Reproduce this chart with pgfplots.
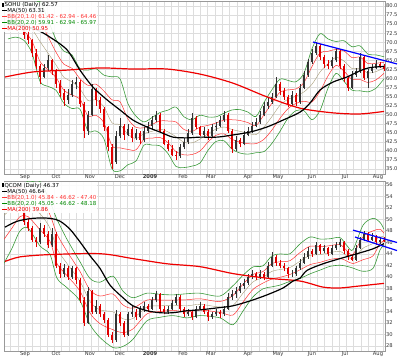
\documentclass[border=0pt]{standalone}
\usepackage{pgfplots}
\pgfplotsset{compat=1.18}
\usepackage{pgfplotstable}
\usepackage{fontspec}
\setmainfont{DejaVu Sans}
\definecolor{gridc}{HTML}{DDDDDD}
\definecolor{framec}{HTML}{999999}
\definecolor{bbgreen}{HTML}{3A9A3A}
\definecolor{legg}{HTML}{008800}
\definecolor{bbred}{HTML}{FF3333}
\definecolor{mared}{HTML}{EE0000}
\definecolor{olivec}{HTML}{A89E7A}
\definecolor{candred}{HTML}{E00000}
\definecolor{candblk}{HTML}{333333}

\pgfplotsset{
  wick/.style={line width=0.45bp, point meta=\thisrow{d}, quiver={u=0, v=\thisrow{h}-\thisrow{l}, colored}},
  body/.style={line width=1.5bp, point meta=\thisrow{d}, quiver={u=0, v=\thisrow{c}-\thisrow{o}, colored}},
  geo/.style={scale only axis, width=381bp, height=173bp, xmin=4, xmax=385},
  panel/.style={geo,
    axis line style={framec}, tick style={draw=none},
    colormap={cand}{color=(candblk) color=(candred)},
    point meta min=0, point meta max=1,
    xtick={25,56,90,120,150,183,211,248,278,312,345,378},
    xticklabels={Sep,Oct,Nov,Dec,\textbf{2009},Feb,Mar,Apr,May,Jun,Jul,Aug},
    minor xtick={10.5,17.8,...,385},
    xminorgrids, ymajorgrids,
    minor grid style={gridc, line width=0.4bp},
    major grid style={gridc, line width=0.4bp},
    yticklabel pos=right,
    ticklabel style={font=\fontsize{5.2}{6}\selectfont, text=black!80},
    yticklabel style={inner sep=0.8bp},
    xticklabel style={inner sep=0.8bp},
    /pgf/number format/assume math mode=true,
  },
}

\pgfplotstableread{
x o h l c d
8 75.0 77.0 74.5 76.0 0
12 76.2 78.5 75.8 77.5 0
16 77.5 78.0 75.5 76.0 1
20 76.0 76.5 73.8 74.5 1
24 74.5 75.0 71.0 72.0 1
28 72.0 73.0 69.5 70.5 1
32 70.5 71.0 66.0 67.0 1
36 67.0 68.0 62.5 63.5 1
40 63.5 64.0 58.5 60.5 1
44 60.5 64.0 60.0 63.0 0
48 63.0 66.5 62.0 65.0 0
52 65.0 65.5 61.0 62.0 1
56 62.0 62.5 57.5 58.5 1
60 58.5 59.5 55.0 56.0 1
64 56.0 57.0 52.5 54.0 1
68 54.0 57.0 53.0 55.5 0
72 55.5 59.5 55.0 58.5 0
76 58.5 60.5 57.0 59.0 0
80 59.0 59.5 52.0 53.0 1
84 53.0 53.5 43.5 45.5 1
88 45.5 51.0 44.5 50.0 0
92 50.0 58.5 49.5 57.0 0
96 57.0 57.5 52.5 54.0 1
100 54.0 55.0 50.5 51.5 1
104 51.5 52.0 45.5 46.5 1
108 46.5 47.0 40.0 41.0 1
112 41.0 42.0 35.0 36.5 1
116 37.0 45.5 36.5 44.0 0
120 44.0 49.0 43.5 47.0 0
124 47.0 47.5 43.0 44.5 1
128 44.5 47.5 44.0 46.0 0
132 46.0 46.5 42.5 43.5 1
136 43.5 46.0 43.0 45.0 0
140 45.0 45.5 42.0 43.0 1
144 43.0 46.5 42.5 45.5 0
148 45.5 48.0 45.0 47.0 0
152 47.0 49.5 46.0 48.5 0
156 48.5 51.0 48.0 50.0 0
160 50.0 50.5 45.0 45.5 1
164 45.5 46.0 41.5 42.0 1
168 42.0 43.0 40.0 40.5 1
172 40.5 41.5 38.5 39.0 1
176 39.0 40.0 37.5 38.5 1
180 38.5 42.0 38.0 41.0 0
184 41.0 43.5 40.5 42.5 0
188 42.5 46.0 42.0 45.0 0
192 45.0 50.5 44.5 49.0 0
196 49.0 49.5 46.0 46.5 1
200 46.5 47.0 44.0 44.5 1
204 44.5 46.5 43.5 45.5 0
208 45.5 46.0 43.0 44.0 1
212 44.0 47.5 43.5 46.5 0
216 46.5 48.0 45.5 47.0 0
220 47.0 49.5 46.5 48.5 0
224 48.5 51.0 48.0 50.0 0
228 50.0 50.5 45.0 45.5 1
232 45.5 46.0 39.5 40.5 1
236 40.5 44.0 40.0 43.0 0
240 43.0 43.5 41.0 42.0 1
244 42.0 45.5 41.5 44.5 0
248 44.5 46.5 44.0 45.5 0
252 45.5 48.0 45.0 47.0 0
256 47.0 49.0 46.5 48.0 0
260 48.0 51.0 47.5 50.0 0
264 50.0 53.5 49.5 52.5 0
268 52.5 54.5 51.5 53.5 0
272 53.5 56.0 53.0 55.0 0
276 55.0 60.5 54.5 58.5 0
280 58.5 59.0 55.5 56.5 1
284 56.5 57.5 54.0 55.0 1
288 55.0 55.5 52.0 53.0 1
292 53.0 56.5 52.5 55.5 0
296 55.5 56.0 52.5 53.5 1
300 53.5 58.5 53.0 57.5 0
304 57.5 62.0 57.0 61.0 0
308 61.0 65.5 60.5 64.5 0
312 64.5 68.0 64.0 67.0 0
316 67.0 70.0 66.5 69.0 0
320 69.0 69.5 65.0 66.0 1
324 66.0 66.5 63.0 64.0 1
328 64.0 65.0 62.5 63.5 1
332 63.5 66.0 63.0 65.0 0
336 65.0 68.5 64.5 67.5 0
340 67.5 68.0 62.5 63.5 1
344 63.5 64.0 59.0 60.0 1
348 60.0 60.5 56.5 57.5 1
352 57.5 62.0 57.0 61.0 0
356 61.0 63.0 60.5 62.0 0
360 62.0 67.0 61.5 66.0 0
364 66.0 66.5 59.5 60.0 1
368 60.0 62.5 57.5 62.0 0
372 62.0 64.0 61.5 63.0 0
376 63.0 65.0 62.5 64.0 0
380 64.0 64.5 63.0 63.5 1
384 63.5 64.0 62.0 62.57 1
}\sohu

\pgfplotstableread{
x m s
8 75.5 2.3
16 76.0 2.3
24 75.5 2.5
32 73.6 3.3
40 70.2 5.5
48 67.0 4.6
56 63.75 3.5
64 60.3 3.6
72 59.1 3.7
80 57.1 2.8
88 53.9 4.2
96 54.1 4.3
104 52.1 4.4
112 47.75 6.35
120 47.2 6.36
128 44.6 4.2
136 43.4 3.1
144 44.8 1.6
152 45.4 1.9
160 46.0 2.3
168 45.25 3.0
176 43.9 4.1
184 42.4 3.5
192 42.2 3.2
200 43.25 3.3
208 44.75 2.3
216 46.0 1.7
224 46.6 1.9
232 45.9 2.7
240 45.4 3.0
248 44.9 2.9
256 44.5 2.5
264 46.6 3.4
272 49.5 3.7
280 52.6 3.6
288 54.25 2.6
296 55.1 2.0
304 56.3 2.6
312 58.4 4.9
320 61.75 5.3
328 64.1 3.4
336 65.8 2.2
344 64.8 2.8
352 62.75 3.0
360 62.8 3.1
368 61.5 2.6
376 61.9 2.3
384 62.94 1.52
}\sohubb

\pgfplotstableread{
x o h l c d
8 53.5 54.8 53.0 54.0 0
12 54.0 55.2 53.6 54.5 0
16 54.5 54.8 53.0 53.5 1
20 53.5 53.8 51.5 52.0 1
24 52.0 52.3 49.0 49.5 1
28 49.5 50.0 48.0 48.5 1
32 48.5 48.8 46.0 46.5 1
36 46.5 47.0 45.3 46.0 1
40 46.0 49.3 45.8 48.5 0
44 48.5 49.0 47.0 47.5 1
48 47.5 48.0 45.0 45.5 1
52 45.5 48.5 45.2 47.5 0
56 47.5 47.8 41.5 42.0 1
60 42.0 42.5 39.8 40.5 1
64 40.5 42.3 40.0 41.5 0
68 41.5 42.0 39.5 40.0 1
72 40.0 42.0 39.6 41.5 0
76 41.5 41.8 38.8 39.5 1
80 39.5 39.8 35.5 36.0 1
84 36.0 36.5 31.5 32.0 1
88 32.0 38.2 31.8 37.5 0
92 37.5 37.8 33.5 34.0 1
96 34.0 36.0 33.6 35.0 0
100 35.0 35.4 33.0 33.5 1
104 33.5 34.0 32.0 32.5 1
108 32.5 32.8 29.5 30.0 1
112 30.0 30.5 28.5 29.0 1
116 29.0 34.2 28.8 33.5 0
120 33.5 34.0 31.5 32.0 1
124 32.0 32.3 29.5 30.0 1
128 30.0 34.0 29.8 33.5 0
132 33.5 35.0 33.0 34.0 0
136 34.0 34.4 32.6 33.0 1
140 33.0 35.0 32.8 34.5 0
144 34.5 35.6 34.0 35.0 0
148 35.0 35.3 34.0 34.5 1
152 34.5 36.6 34.2 36.0 0
156 36.0 37.5 35.6 37.0 0
160 37.0 37.3 34.0 34.5 1
164 34.5 35.0 33.5 34.0 1
168 34.0 35.0 33.6 34.5 0
172 34.5 36.0 34.2 35.5 0
176 35.5 37.0 35.2 36.5 0
180 36.5 36.8 34.0 34.5 1
184 34.5 34.8 33.0 33.5 1
188 33.5 34.5 33.2 34.0 0
192 34.0 34.3 32.6 33.0 1
196 33.0 35.0 32.8 34.5 0
200 34.5 35.6 34.2 35.0 0
204 35.0 35.3 33.6 34.0 1
208 34.0 34.3 32.4 33.0 1
212 33.0 34.0 32.7 33.5 0
216 33.5 34.5 33.2 34.0 0
220 34.0 34.3 32.8 33.5 1
224 33.5 35.0 33.2 34.5 0
228 34.5 37.2 34.2 36.5 0
232 36.5 37.8 36.0 37.0 0
236 37.0 38.2 36.4 37.5 0
240 37.5 39.0 37.2 38.5 0
244 38.5 39.6 38.0 39.0 0
248 39.0 40.6 38.6 40.0 0
252 40.0 41.3 39.6 40.5 0
256 40.5 40.8 39.4 40.0 1
260 40.0 41.2 39.7 40.5 0
264 40.5 40.8 39.4 40.0 1
268 40.0 42.6 39.8 42.0 0
272 42.0 44.4 41.7 43.5 0
276 43.5 43.8 42.0 42.5 1
280 42.5 43.0 41.5 42.0 1
284 42.0 42.4 41.0 41.5 1
288 41.5 41.8 39.8 40.5 1
292 40.5 41.2 40.0 40.5 0
296 40.5 42.0 40.2 41.5 0
300 41.5 43.2 41.2 42.5 0
304 42.5 44.2 42.2 43.5 0
308 43.5 45.2 43.2 44.5 0
312 44.5 44.8 43.5 44.0 1
316 44.0 46.0 43.8 45.5 0
320 45.5 45.8 44.0 44.5 1
324 44.5 45.6 44.2 45.0 0
328 45.0 45.3 43.6 44.0 1
332 44.0 45.6 43.8 45.0 0
336 45.0 46.0 44.7 45.5 0
340 45.5 46.6 45.2 46.0 0
344 46.0 46.3 44.0 44.5 1
348 44.5 44.8 43.0 43.5 1
352 43.5 43.8 42.7 43.0 1
356 43.0 45.6 42.8 45.0 0
360 45.0 47.0 44.8 46.5 0
364 46.5 48.0 46.2 47.5 0
368 47.5 47.8 46.0 46.5 1
372 46.5 47.6 46.2 47.0 0
376 47.0 47.3 45.6 46.0 1
380 46.0 47.0 45.7 46.5 0
384 46.5 46.9 46.0 46.37 1
}\qcom

\pgfplotstableread{
x m s
4 50.7 4.15
12 52.0 3.5
20 53.0 2.5
28 52.5 2.0
40 51.0 2.8
50 48.5 2.3
57 44.9 2.55
67 42.35 2.1
80 39.25 1.7
90 35.75 2.0
100 34.3 2.4
113 33.95 3.1
123 32.75 2.4
133 32.8 1.8
147 34.8 1.2
160 35.0 1.0
173 35.1 0.9
187 35.0 1.05
200 35.25 0.97
220 34.8 0.95
233 35.1 1.7
243 37.2 1.55
253 39.15 1.3
263 39.95 1.0
272 41.0 1.35
280 41.3 1.35
290 41.65 1.2
300 42.75 1.5
310 43.75 1.6
320 43.9 1.35
330 44.25 1.2
340 44.45 1.2
347 43.65 0.9
353 43.15 0.8
363 45.0 2.0
373 45.85 2.17
380 47.1 1.2
384 46.9 0.7
}\qcombb

\begin{document}
\begin{tikzpicture}
\path[use as bounding box] (0,0) rectangle (400bp,-361bp);
% ---------------- SOHU ----------------
\begin{axis}[panel, at={(4bp,-1bp)}, anchor=north west,
  ymin=33.62, ymax=81.38, ytick={35,37.5,...,80},
  yticklabel style={/pgf/number format/.cd, fixed, fixed zerofill, precision=1}]
\addplot[bbgreen, line width=0.6bp, smooth, tension=0.5] table[x=x, y expr={\thisrow{m}+2*\thisrow{s}}] {\sohubb};
\addplot[bbgreen, line width=0.6bp, smooth, tension=0.5] table[x=x, y expr={\thisrow{m}-2*\thisrow{s}}] {\sohubb};
\addplot[bbred, line width=0.5bp, smooth, tension=0.5] table[x=x, y expr={\thisrow{m}+\thisrow{s}}] {\sohubb};
\addplot[bbred, line width=0.5bp, smooth, tension=0.5] table[x=x, y expr={\thisrow{m}-\thisrow{s}}] {\sohubb};
\addplot[olivec, line width=0.4bp, smooth, tension=0.5] table[x=x, y=m] {\sohubb};
\addplot[wick] table[x=x, y=l] {\sohu};
\addplot[body] table[x=x, y=o] {\sohu};
\addplot[mared, line width=1.2bp, smooth] coordinates {(5,60.4) (33,61.8) (67,62.3) (100,62.9) (133,62.6) (167,62.6) (200,61.2) (233,58.7) (267,54.9) (300,51.8) (333,50.5) (360,50.2) (384,50.9)};
\addplot[black, line width=1.2bp, smooth] coordinates {(8,75.0) (22,74.6) (37,73.4) (50,71.4) (67,67.9) (80,62.3) (93,57.6) (107,54.1) (120,51.3) (133,48.5) (147,46.6) (160,45.2) (173,43.8) (187,43.6) (200,43.8) (217,43.8) (233,44.4) (250,45.2) (267,46.6) (283,48.5) (300,50.7) (310,53.2) (320,56.8) (333,59.0) (347,60.4) (360,62.1) (370,63.0) (384,63.3)};
\end{axis}
\begin{axis}[geo, at={(4bp,-1bp)}, anchor=north west, ymin=33.62, ymax=81.38, hide axis, clip=false]
\addplot[blue, line width=1.2bp] coordinates {(313,70.06) (397,64.0)};
\end{axis}
% ---------------- QCOM ----------------
\begin{axis}[panel, height=170bp, at={(4bp,-181bp)}, anchor=north west,
  ymin=27.15, ymax=56.68, ytick={28,30,...,56}]
\addplot[bbgreen, line width=0.6bp, smooth, tension=0.5] table[x=x, y expr={\thisrow{m}+2*\thisrow{s}}] {\qcombb};
\addplot[bbgreen, line width=0.6bp, smooth, tension=0.5] table[x=x, y expr={\thisrow{m}-2*\thisrow{s}}] {\qcombb};
\addplot[bbred, line width=0.5bp, smooth, tension=0.5] table[x=x, y expr={\thisrow{m}+\thisrow{s}}] {\qcombb};
\addplot[bbred, line width=0.5bp, smooth, tension=0.5] table[x=x, y expr={\thisrow{m}-\thisrow{s}}] {\qcombb};
\addplot[olivec, line width=0.4bp, smooth, tension=0.5] table[x=x, y=m] {\qcombb};
\addplot[wick] table[x=x, y=l] {\qcom};
\addplot[body] table[x=x, y=o] {\qcom};
\addplot[mared, line width=1.2bp, smooth] coordinates {(5,42.7) (20,43.5) (50,43.9) (100,44.05) (133,43.2) (167,42.3) (200,41.8) (233,40.6) (267,39.8) (300,39.3) (323,38.25) (340,38.1) (357,38.4) (384,38.9)};
\addplot[black, line width=1.2bp, smooth] coordinates {(5,48.66) (17,49.68) (33,50.2) (50,50.2) (60,49.7) (70,48.3) (80,46.1) (90,43.7) (100,41.5) (110,38.6) (123,36.4) (133,35.0) (147,34.15) (160,33.8) (173,33.8) (187,34.15) (200,34.3) (220,34.7) (233,35.0) (250,35.85) (267,36.9) (283,38.1) (293,39.3) (300,39.8) (307,41.15) (323,42.3) (340,43.2) (357,44.05) (373,44.9) (384,45.8)};
\end{axis}
\begin{axis}[geo, height=170bp, at={(4bp,-181bp)}, anchor=north west, ymin=27.15, ymax=56.68, hide axis, clip=false]
\addplot[blue, line width=1.2bp] coordinates {(353,48.15) (397,46.0)};
\addplot[blue, line width=1.2bp] coordinates {(355,46.95) (397,44.6)};
\end{axis}
% legends
\node[anchor=north west, fill=white, fill opacity=0.9, text opacity=1, inner sep=0.8bp,
  font=\fontsize{5.5}{6}\selectfont, align=left] at (1.5bp,-1.5bp) {%
\rule{1.2bp}{4bp}\,SOHU (Daily) 62.57\\
\rule[1.7bp]{5bp}{0.7bp}MA(50) 63.31\\
\textcolor{bbred}{\rule[1.7bp]{5bp}{0.7bp}BB(20,1.0) 61.42 - 62.94 - 64.46}\\
\textcolor{legg}{\rule[1.7bp]{5bp}{0.7bp}BB(20,2.0) 59.91 - 62.94 - 65.97}\\
\textcolor{mared}{\rule[1.7bp]{5bp}{0.7bp}MA(200) 50.95}};
\node[anchor=north west, fill=white, fill opacity=0.9, text opacity=1, inner sep=0.8bp,
  font=\fontsize{5.5}{6}\selectfont, align=left] at (1.5bp,-182bp) {%
\rule{1.2bp}{4bp}\,QCOM (Daily) 46.37\\
\rule[1.7bp]{5bp}{0.7bp}MA(50) 46.64\\
\textcolor{bbred}{\rule[1.7bp]{5bp}{0.7bp}BB(20,1.0) 45.84 - 46.62 - 47.40}\\
\textcolor{legg}{\rule[1.7bp]{5bp}{0.7bp}BB(20,2.0) 45.05 - 46.62 - 48.18}\\
\textcolor{mared}{\rule[1.7bp]{5bp}{0.7bp}MA(200) 39.86}};
\end{tikzpicture}
\end{document}
